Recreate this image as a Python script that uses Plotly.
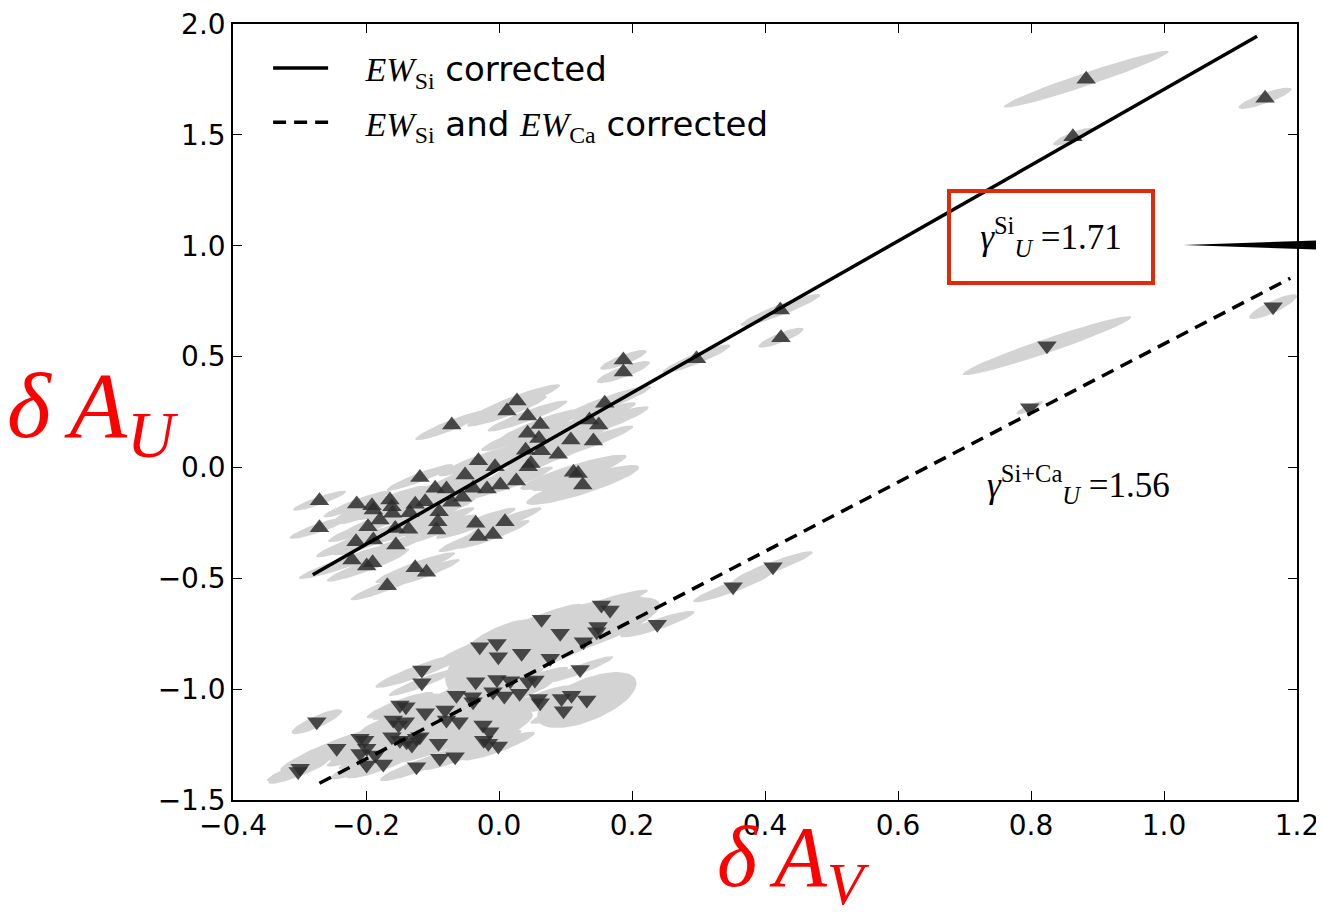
import numpy as np
import plotly.graph_objects as go

# ---------------- data ----------------
# Upper sample: EW_Si corrected (triangle-up)
up_x = [0.187, 0.187, 0.027, 0.012, 0.043, 0.062, 0.043, 0.060, 0.159, 0.136, 0.150, 0.108,
        0.142, 0.040, 0.064, 0.089, 0.048, 0.044, -0.031, -0.006, -0.051, -0.119, 0.112, 0.119,
        0.126, -0.096, -0.079, -0.039, -0.018, 0.002, 0.026, -0.055, -0.071, -0.270, -0.270,
        -0.214, -0.191, -0.189, -0.164, -0.161, -0.160, -0.126, -0.111, -0.134, -0.090, -0.092,
        -0.094, -0.179, -0.197, -0.136, -0.156, -0.215, -0.189, -0.155, -0.035, 0.009, -0.031,
        -0.009, -0.221, -0.199, -0.190, -0.126, -0.109, -0.168, -0.071,
        0.297, 0.423, 0.424, 0.883, 0.863, 1.152]
up_y = [0.485, 0.430, 0.300, 0.254, 0.232, 0.194, 0.154, 0.131, 0.289, 0.214, 0.191, 0.124,
        0.119, 0.078, 0.075, 0.060, 0.018, 0.003, 0.030, 0.003, -0.034, -0.045, -0.022, -0.027,
        -0.079, -0.094, -0.097, -0.094, -0.097, -0.079, -0.061, -0.135, -0.157, -0.150, -0.272,
        -0.165, -0.173, -0.192, -0.147, -0.177, -0.207, -0.166, -0.155, -0.204, -0.200, -0.245,
        -0.282, -0.237, -0.267, -0.279, -0.275, -0.335, -0.327, -0.350, -0.252, -0.245, -0.312,
        -0.302, -0.418, -0.445, -0.430, -0.452, -0.473, -0.534, 0.191,
        0.490, 0.710, 0.585, 1.751, 1.492, 1.665]
up_sx = [0.035, 0.040, 0.065, 0.060, 0.060, 0.060, 0.070, 0.060, 0.070, 0.070, 0.075, 0.060,
         0.060, 0.060, 0.070, 0.060, 0.060, 0.055, 0.060, 0.055, 0.055, 0.050, 0.080, 0.070,
         0.085, 0.055, 0.055, 0.060, 0.055, 0.060, 0.055, 0.055, 0.055, 0.040, 0.045,
         0.050, 0.055, 0.055, 0.055, 0.050, 0.050, 0.055, 0.050, 0.055, 0.055, 0.055,
         0.060, 0.055, 0.060, 0.055, 0.055, 0.060, 0.060, 0.060, 0.060, 0.055, 0.060,
         0.055, 0.080, 0.060, 0.055, 0.060, 0.050, 0.055, 0.055,
         0.051, 0.060, 0.034, 0.124, 0.030, 0.040]
up_sy = [0.045, 0.050, 0.075, 0.070, 0.070, 0.070, 0.080, 0.070, 0.080, 0.080, 0.085, 0.070,
         0.070, 0.070, 0.080, 0.070, 0.070, 0.065, 0.070, 0.065, 0.065, 0.060, 0.080, 0.080,
         0.090, 0.065, 0.065, 0.070, 0.065, 0.070, 0.065, 0.065, 0.065, 0.045, 0.050,
         0.060, 0.065, 0.065, 0.065, 0.060, 0.060, 0.065, 0.060, 0.065, 0.065, 0.065,
         0.070, 0.065, 0.070, 0.065, 0.065, 0.070, 0.070, 0.070, 0.070, 0.065, 0.070,
         0.065, 0.085, 0.070, 0.065, 0.070, 0.060, 0.065, 0.068,
         0.065, 0.072, 0.045, 0.128, 0.040, 0.048]
up_rho = [0.85, 0.85, 0.93, 0.93, 0.93, 0.93, 0.93, 0.93, 0.93, 0.93, 0.93, 0.93,
          0.93, 0.93, 0.93, 0.93, 0.93, 0.93, 0.93, 0.93, 0.93, 0.93, 0.90, 0.90,
          0.88, 0.93, 0.93, 0.93, 0.93, 0.93, 0.93, 0.93, 0.93, 0.90, 0.90,
          0.93, 0.93, 0.93, 0.93, 0.93, 0.93, 0.93, 0.93, 0.93, 0.93, 0.93,
          0.93, 0.93, 0.93, 0.93, 0.93, 0.93, 0.93, 0.93, 0.93, 0.93, 0.93,
          0.93, 0.95, 0.93, 0.93, 0.93, 0.93, 0.93, 0.93,
          0.92, 0.93, 0.85, 0.97, 0.85, 0.85]

# Lower sample: EW_Si and EW_Ca corrected (triangle-down)
lo_x = [0.154, 0.167, 0.064, 0.092, 0.149, 0.147, 0.127, -0.029, -0.003, -0.001, 0.034, 0.077,
        0.122, -0.116, -0.116, -0.035, -0.003, 0.017, 0.044, 0.054, -0.064, -0.040, -0.009,
        0.008, 0.031, -0.039, 0.059, 0.062, 0.094, 0.109, 0.132, 0.097, -0.149, -0.140,
        -0.111, -0.081, -0.079, -0.060, -0.159, -0.141, -0.151, -0.024, -0.014, -0.023,
        -0.001, -0.016, -0.161, -0.149, -0.139, -0.131, -0.124, -0.119, -0.209, -0.202,
        -0.199, -0.209, -0.199, -0.174, -0.244, -0.186, -0.274, -0.299, -0.302, -0.091,
        -0.089, -0.066, -0.124,
        0.238, 0.352, 0.412, 0.824, 0.798, 1.164]
lo_y = [-0.621, -0.643, -0.685, -0.748, -0.718, -0.741, -0.786, -0.809, -0.794, -0.854, -0.838,
        -0.861, -0.911, -0.914, -0.971, -0.967, -0.956, -0.962, -0.967, -0.959, -1.027, -1.034,
        -1.012, -1.031, -1.019, -1.057, -1.042, -1.061, -1.042, -1.027, -1.049, -1.097, -1.072,
        -1.079, -1.106, -1.094, -1.139, -1.147, -1.139, -1.147, -1.162, -1.162, -1.192, -1.230,
        -1.257, -1.244, -1.215, -1.230, -1.237, -1.252, -1.222, -1.215, -1.222, -1.230,
        -1.267, -1.290, -1.342, -1.338, -1.267, -1.297, -1.147, -1.357, -1.372, -1.244,
        -1.312, -1.305, -1.350,
        -0.707, -0.538, -0.448, 0.549, 0.269, 0.725]
lo_sx = [0.070, 0.050, 0.060, 0.150, 0.050, 0.050, 0.050, 0.060, 0.060, 0.080, 0.050, 0.060,
         0.050, 0.070, 0.050, 0.050, 0.050, 0.050, 0.050, 0.050, 0.060, 0.050, 0.050,
         0.050, 0.050, 0.050, 0.050, 0.050, 0.050, 0.050, 0.075, 0.050, 0.050, 0.050,
         0.050, 0.050, 0.125, 0.050, 0.050, 0.050, 0.050, 0.050, 0.065, 0.050,
         0.055, 0.050, 0.050, 0.050, 0.050, 0.050, 0.050, 0.050, 0.055, 0.050,
         0.055, 0.050, 0.055, 0.055, 0.085, 0.055, 0.038, 0.050, 0.045, 0.050,
         0.055, 0.050, 0.055,
         0.056, 0.060, 0.060, 0.127, 0.020, 0.036]
lo_sy = [0.070, 0.060, 0.070, 0.165, 0.060, 0.060, 0.060, 0.070, 0.070, 0.170, 0.060, 0.070,
         0.060, 0.080, 0.060, 0.060, 0.060, 0.060, 0.060, 0.060, 0.070, 0.060, 0.060,
         0.060, 0.060, 0.060, 0.060, 0.060, 0.060, 0.060, 0.126, 0.060, 0.060, 0.060,
         0.060, 0.060, 0.200, 0.060, 0.060, 0.060, 0.060, 0.060, 0.095, 0.060,
         0.065, 0.060, 0.060, 0.060, 0.060, 0.060, 0.060, 0.060, 0.065, 0.060,
         0.065, 0.060, 0.065, 0.065, 0.105, 0.065, 0.056, 0.060, 0.055, 0.060,
         0.065, 0.060, 0.065,
         0.060, 0.070, 0.070, 0.133, 0.030, 0.056]
lo_rho = [0.93, 0.93, 0.93, 0.77, 0.93, 0.93, 0.93, 0.90, 0.90, 0.60, 0.93, 0.93,
          0.93, 0.93, 0.93, 0.90, 0.90, 0.90, 0.90, 0.90, 0.90, 0.90, 0.90,
          0.90, 0.90, 0.90, 0.90, 0.90, 0.90, 0.90, 0.60, 0.90, 0.90, 0.90,
          0.90, 0.90, 0.75, 0.90, 0.90, 0.90, 0.90, 0.90, 0.80, 0.90,
          0.90, 0.90, 0.90, 0.90, 0.90, 0.90, 0.90, 0.90, 0.90, 0.90,
          0.90, 0.90, 0.90, 0.90, 0.92, 0.90, 0.85, 0.90, 0.90, 0.90,
          0.90, 0.90, 0.90,
          0.90, 0.93, 0.93, 0.967, 0.85, 0.85]

# Fits
fit_si_x = [-0.28, 1.14]
fit_si_slope, fit_si_icpt = 1.71, -0.005
fit_sica_x = [-0.27, 1.19]
fit_sica_slope, fit_sica_icpt = 1.56, -1.003

x_ticks = [-0.4, -0.2, 0.0, 0.2, 0.4, 0.6, 0.8, 1.0, 1.2]
y_ticks = [-1.5, -1.0, -0.5, 0.0, 0.5, 1.0, 1.5, 2.0]

SERIF = "Liberation Serif, DejaVu Serif, serif"
SANS = "DejaVu Sans, sans-serif"
NB = "&nbsp;&nbsp;&nbsp;"


def ellipses(cx, cy, sx, sy, rho, n=60):
    t = np.linspace(0, 2 * np.pi, n)
    xs, ys = [], []
    for x0, y0, a, b, r in zip(cx, cy, sx, sy, rho):
        xs += list(x0 + a * np.cos(t)) + [None]
        ys += list(y0 + b * (r * np.cos(t) + np.sqrt(1 - r * r) * np.sin(t))) + [None]
    return xs, ys


fig = go.Figure()

for cx, cy, sx, sy, rh in [(up_x, up_y, up_sx, up_sy, up_rho), (lo_x, lo_y, lo_sx, lo_sy, lo_rho)]:
    ex, ey = ellipses(cx, cy, sx, sy, rh)
    fig.add_trace(go.Scatter(x=ex, y=ey, mode="lines", fill="toself", fillcolor="#d3d3d3",
                             line=dict(width=0, color="#d3d3d3"), showlegend=False, hoverinfo="skip"))

fig.add_trace(go.Scatter(x=up_x, y=up_y, mode="markers", showlegend=False,
                         marker=dict(symbol="triangle-up", size=17, color="rgba(45,45,45,0.85)",
                                     line=dict(width=0))))
fig.add_trace(go.Scatter(x=lo_x, y=lo_y, mode="markers", showlegend=False,
                         marker=dict(symbol="triangle-down", size=17, color="rgba(45,45,45,0.85)",
                                     line=dict(width=0))))

fig.add_trace(go.Scatter(
    x=fit_si_x, y=[fit_si_slope * v + fit_si_icpt for v in fit_si_x], mode="lines",
    line=dict(color="black", width=3.5), legendgroup="a",
    name=NB + "<span style='font-family:Liberation Serif'><i>EW</i><sub>Si</sub></span> corrected"))
fig.add_trace(go.Scatter(
    x=fit_sica_x, y=[fit_sica_slope * v + fit_sica_icpt for v in fit_sica_x], mode="lines",
    line=dict(color="black", width=3.5, dash="13px,8px"), legendgroup="b",
    name=NB + "<span style='font-family:Liberation Serif'><i>EW</i><sub>Si</sub></span> and "
         "<span style='font-family:Liberation Serif'><i>EW</i><sub>Ca</sub></span> corrected"))

axis_common = dict(showline=True, linecolor="black", linewidth=1.5, mirror="ticks",
                   ticks="inside", ticklen=9, tickwidth=1, tickcolor="black",
                   showgrid=False, zeroline=False, tickformat=".1f",
                   ticklabeloverflow="allow",
                   tickfont=dict(family=SANS, size=28, color="black"))

# page has an 8px body margin: express the target page pixels in figure pixels
OFF = 8
W, H = 1324, 919
L, R, T, B = 233 - OFF, 1297 - OFF, 24 - OFF, 800 - OFF

fig.update_layout(
    width=W, height=H,
    margin=dict(l=L, r=W - R, t=T, b=H - B, autoexpand=False),
    paper_bgcolor="white", plot_bgcolor="white",
    xaxis=dict(range=[-0.4, 1.2], tickvals=x_ticks, **axis_common),
    yaxis=dict(range=[-1.5, 2.0], tickvals=y_ticks, **axis_common),
    legend=dict(x=0.033, y=0.98, xanchor="left", yanchor="top", bgcolor="rgba(0,0,0,0)",
                font=dict(family=SANS, size=34, color="black"), tracegroupgap=7,
                itemwidth=55),
    showlegend=True,
)


def px(xp):  # page pixel -> paper x
    return (xp - OFF - L) / (R - L)


def py(yp):  # page pixel -> paper y
    return (B - (yp - OFF)) / (B - T)


# gamma annotations
fig.add_annotation(x=0.83, y=1.04, xref="x", yref="y", showarrow=False,
                   text="<i>γ</i><sup>Si</sup><sub><i>U</i></sub> =1.71",
                   font=dict(family=SERIF, size=35, color="black"),
                   bordercolor="#e02a0a", borderwidth=4, width=198, height=86, align="center")
fig.add_annotation(x=0.871, y=-0.075, xref="x", yref="y", showarrow=False,
                   text="<i>γ</i><sup>Si+Ca</sup><sub><i>U</i></sub> =1.56",
                   font=dict(family=SERIF, size=35, color="black"))

# axis labels
fig.add_annotation(x=px(93), y=py(412), xref="paper", yref="paper", showarrow=False,
                   xanchor="center", yanchor="middle",
                   text="<i>δ&#8201;A</i><sub><i>U</i></sub>",
                   font=dict(family=SERIF, size=94, color="red"))
fig.add_annotation(x=px(793), y=py(918), xref="paper", yref="paper", showarrow=False,
                   xanchor="center", yanchor="bottom", borderpad=0,
                   text="<i>δ&#8201;A</i><sub><i>V</i></sub>",
                   font=dict(family=SERIF, size=86, color="red"))

# black wedge pointer at right
x0, x1 = px(1183), px(1330)
yc = py(245)
h = 5.0 / (B - T)
fig.add_shape(type="path", xref="paper", yref="paper",
              path=f"M {x0} {yc} L {x1} {yc + h} L {x1} {yc - h} Z",
              fillcolor="black", line=dict(width=0))

fig.write_html("out.html")
